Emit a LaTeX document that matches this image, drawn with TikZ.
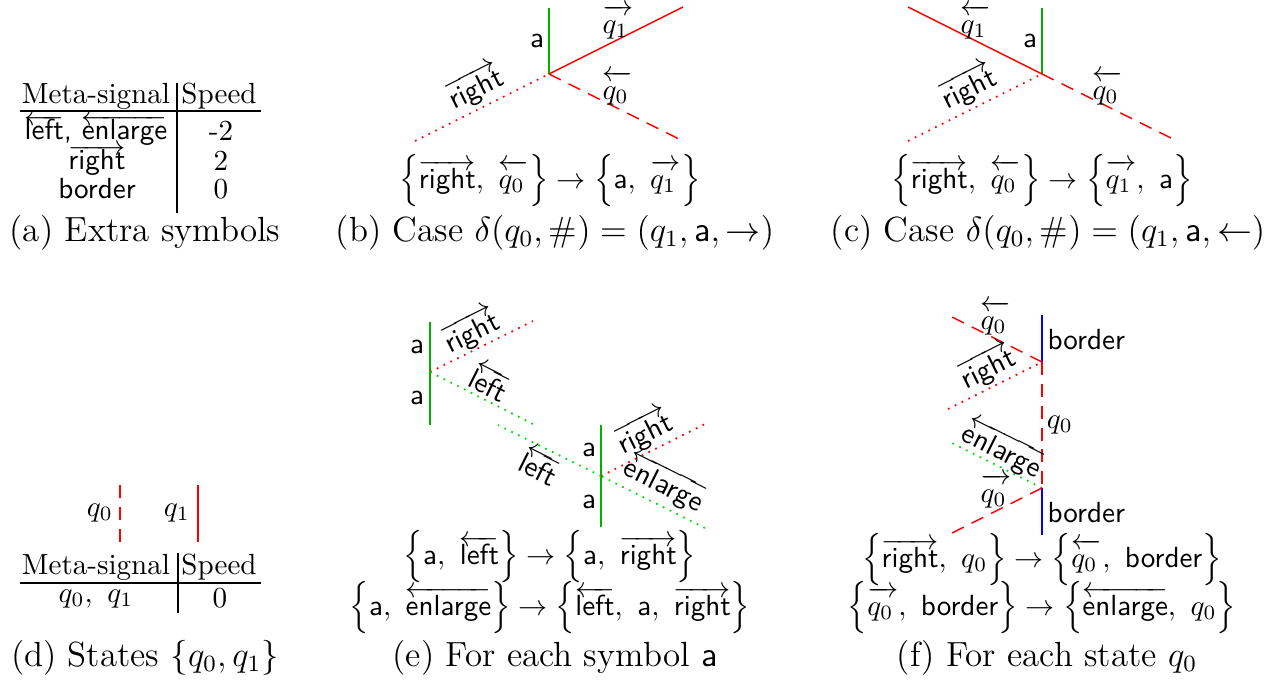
\documentclass[tikz,border=0pt]{standalone}
\begin{document}
\begin{tikzpicture}[x=0.3436pt,y=-0.3436pt,
  lbl/.style={inner sep=0pt, font=\normalsize},
  capt/.style={inner sep=0pt, font=\fontsize{12}{14.5}\selectfont},
  rule/.style={line width=0.4pt, black},
  aline/.style={line width=0.5pt, green!70!black},
  bline/.style={line width=0.5pt, blue},
  qdash/.style={line width=0.5pt, red, dash pattern=on 4.5pt off 3pt},
  qsolid/.style={line width=0.5pt, red},
  rdot/.style={line width=0.6pt, red, dotted},
  gdot/.style={line width=0.6pt, green!85!black, dotted}]
\useasboundingbox (0,0) rectangle (1276,681);
\newcommand{\sig}[1]{\textsf{#1}}
\newcommand{\sra}[1]{\overrightarrow{\vphantom{l}#1}}
\newcommand{\sla}[1]{\overleftarrow{\vphantom{l}#1}}
\newcommand{\qra}[1]{\overrightarrow{\vphantom{l}#1\mkern3mu}}
\newcommand{\qla}[1]{\overleftarrow{\vphantom{l}#1\mkern3mu}}
\newcommand{\tra}[1]{\overrightarrow{\smash{#1}\rule{0pt}{5.5pt}}}
\newcommand{\tla}[1]{\overleftarrow{\smash{#1}\rule{0pt}{5.5pt}}}
% ---------------- (a)
\node[lbl] (ah1) at (96,96) {Meta-signal};
\node[lbl] (ah2) at (219,96) {Speed};
\coordinate (ahl) at (20,111); \coordinate (ahr) at (261,111);
\coordinate (avt) at (177,83); \coordinate (avb) at (177,213);
\draw[rule] (ahl) -- (ahr);
\draw[rule] (avt) -- (avb);
\node[lbl, anchor=base] (ar1) at (96,139) {\sig{$\tla{\sig{left}}$, $\tla{\sig{enlarge}}$}};
\node[lbl] (as1) at (221,131) {-2};
\node[lbl, anchor=base] (ar2) at (97,169) {$\tra{\sig{right}}$};
\node[lbl] (as2) at (221,161) {2};
\node[lbl] (ar3) at (97,189) {\sig{border}};
\node[lbl] (as3) at (221,189) {0};
\node[capt] (capa) at (145,233) {(a) Extra symbols};
% ---------------- (b)
\coordinate (b0) at (549,74);
\coordinate (bt) at (549,8);
\coordinate (bq1) at (683,7);
\coordinate (bq0) at (683,141);
\coordinate (br) at (415,141);
\draw[aline] (bt) -- (b0);
\draw[qsolid] (b0) -- (bq1);
\draw[qdash] (b0) -- (bq0);
\draw[rdot] (br) -- (b0);
\node[lbl] (ba) at (537,41) {\sig{a}};
\node[lbl, anchor=base] (bl1) at (618,33) {$\qra{q_1}$};
\node[lbl, anchor=base] (bl0) at (618,99) {$\qla{q_0}$};
\node[lbl, rotate=26.57] (blr) at (475,87) {$\sra{\sig{right}}$};
\node[lbl, anchor=base] (bf) at (550,188) {$\left\{\sra{\sig{right}},\ \qla{q_0}\right\}\rightarrow\left\{\sig{a},\ \qra{q_1}\right\}$};
\node[capt] (capb) at (555,233) {(b) Case $\delta(q_0,\sig{\#})=(q_1,\sig{a},\rightarrow)$};
% ---------------- (c)
\coordinate (c0) at (1042,74);
\coordinate (ct) at (1042,8);
\coordinate (cq1) at (908,7);
\coordinate (cq0) at (1177,141);
\coordinate (cr) at (908,141);
\draw[aline] (ct) -- (c0);
\draw[qsolid] (cq1) -- (c0);
\draw[qdash] (c0) -- (cq0);
\draw[rdot] (cr) -- (c0);
\node[lbl] (ca) at (1030,41) {\sig{a}};
\node[lbl, anchor=base] (cl1) at (976,33) {$\qla{q_1}$};
\node[lbl, anchor=base] (cl0) at (1108,99) {$\qla{q_0}$};
\node[lbl, rotate=26.57] (clr) at (968,87) {$\sra{\sig{right}}$};
\node[lbl, anchor=base] (cf) at (1042,188) {$\left\{\sra{\sig{right}},\ \qla{q_0}\right\}\rightarrow\left\{\qra{q_1},\ \sig{a}\right\}$};
\node[capt] (capc) at (1048,233) {(c) Case $\delta(q_0,\sig{\#})=(q_1,\sig{a},\leftarrow)$};
% ---------------- (d)
\coordinate (d0t) at (120,485); \coordinate (d0b) at (120,542);
\coordinate (d1t) at (198,485); \coordinate (d1b) at (198,542);
\draw[qdash] (d0t) -- (d0b);
\draw[qsolid] (d1t) -- (d1b);
\node[lbl] (dq0) at (100,513) {$q_0$};
\node[lbl] (dq1) at (177,513) {$q_1$};
\node[lbl] (dh1) at (96,567) {Meta-signal};
\node[lbl] (dh2) at (219,567) {Speed};
\coordinate (dhl) at (20,583); \coordinate (dhr) at (261,583);
\coordinate (dvt) at (178,553); \coordinate (dvb) at (178,613);
\draw[rule] (dhl) -- (dhr);
\draw[rule] (dvt) -- (dvb);
\node[lbl] (dr1) at (96,599) {$q_0,\ q_1$};
\node[lbl] (ds1) at (220,598) {0};
\node[capt] (capd) at (145,658) {(d) States $\{q_0,q_1\}$};
% ---------------- (e)
\coordinate (e1t) at (430,322); \coordinate (e1b) at (430,425);
\coordinate (e1) at (430,372);
\coordinate (e1r) at (533,321); \coordinate (e1l) at (533,424);
\draw[aline] (e1t) -- (e1b);
\draw[rdot] (e1) -- (e1r);
\draw[gdot] (e1l) -- (e1);
\coordinate (e2t) at (601,425); \coordinate (e2b) at (601,527);
\coordinate (e2) at (601,476);
\coordinate (e2l) at (498,425); \coordinate (e2r) at (705,424); \coordinate (e2e) at (705,528);
\draw[aline] (e2t) -- (e2b);
\draw[gdot] (e2) -- (e2l);
\draw[rdot] (e2) -- (e2r);
\draw[gdot] (e2e) -- (e2);
\node[lbl] (ea1) at (417,347) {\sig{a}};
\node[lbl] (ea2) at (417,398) {\sig{a}};
\node[lbl] (ea3) at (589,450) {\sig{a}};
\node[lbl] (ea4) at (589,502) {\sig{a}};
\node[lbl, rotate=26.57] (er1) at (471,331) {$\sra{\sig{right}}$};
\node[lbl, rotate=-26.57] (el1) at (490,382) {$\sla{\sig{left}}$};
\node[lbl, rotate=-26.57] (el2) at (540,466) {$\sla{\sig{left}}$};
\node[lbl, rotate=26.57] (er2) at (644,432) {$\sra{\sig{right}}$};
\node[lbl, rotate=-26.57] (een) at (665,483) {$\sla{\sig{enlarge}}$};
\node[lbl, anchor=base] (ef1) at (550,564) {$\left\{\sig{a},\ \sla{\sig{left}}\right\}\rightarrow\left\{\sig{a},\ \sra{\sig{right}}\right\}$};
\node[lbl, anchor=base] (ef2) at (550,615) {$\left\{\sig{a},\ \sla{\sig{enlarge}}\right\}\rightarrow\left\{\sla{\sig{left}},\ \sig{a},\ \sra{\sig{right}}\right\}$};
\node[capt] (cape) at (555,658) {(e) For each symbol \sig{a}};
% ---------------- (f)
\coordinate (f1t) at (1042,315); \coordinate (f1) at (1042,362);
\coordinate (f2) at (1042,488); \coordinate (f2b) at (1042,535);
\coordinate (fq0l) at (948,315); \coordinate (frl) at (948,409);
\coordinate (fel) at (948,441); \coordinate (fq0r) at (952,533);
\draw[bline] (f1t) -- (f1);
\draw[bline] (f2) -- (f2b);
\draw[qdash] (f1) -- (fq0l);
\draw[rdot] (frl) -- (f1);
\draw[qdash] (f1) -- (f2);
\draw[gdot] (f2) -- (fel);
\draw[qdash] (fq0r) -- (f2);
\node[lbl, anchor=base] (fl0) at (996,329) {$\qla{q_0}$};
\node[lbl, anchor=west] (fb1) at (1047,340) {\sig{border}};
\node[lbl, rotate=26.57] (fr) at (987,367) {$\sra{\sig{right}}$};
\node[lbl] (fq) at (1060,425) {$q_0$};
\node[lbl, rotate=-26.57] (fen) at (1003,449) {$\sla{\sig{enlarge}}$};
\node[lbl, anchor=base] (fr0) at (996,502) {$\qra{q_0}$};
\node[lbl, anchor=west] (fb2) at (1047,513) {\sig{border}};
\node[lbl, anchor=base] (ff1) at (1042,567) {$\left\{\sra{\sig{right}},\ q_0\right\}\rightarrow\left\{\qla{q_0},\ \sig{border}\right\}$};
\node[lbl, anchor=base] (ff2) at (1042,615) {$\left\{\qra{q_0},\ \sig{border}\right\}\rightarrow\left\{\sla{\sig{enlarge}},\ q_0\right\}$};
\node[capt] (capf) at (1047,658) {(f) For each state $q_0$};
\end{tikzpicture}
\end{document}
